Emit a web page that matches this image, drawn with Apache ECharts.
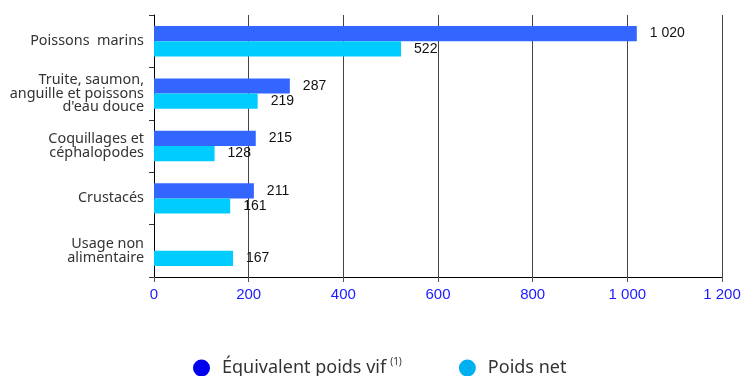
<!DOCTYPE html>
<html><head><meta charset="utf-8">
<script src="https://cdn.jsdelivr.net/npm/echarts@6/dist/echarts.min.js"></script>
<style>html,body{margin:0;padding:0;background:#fff}#c{width:744px;height:376px}</style>
</head><body><div id="c"></div>
<script>
const categories = ["Poissons  marins", "Truite, saumon,\nanguille et poissons\nd'eau douce", "Coquillages et\ncéphalopodes", "Crustacés", "Usage non\nalimentaire"];
const equivalentPoidsVif = [1020, 287, 215, 211, null];
const poidsNet = [522, 219, 128, 161, 167];
const xTicks = [0, 200, 400, 600, 800, 1000, 1200];

const fmt = v => String(v).replace(/\B(?=(\d{3})+(?!\d))/g, ' ');
const chart = echarts.init(document.getElementById('c'));
chart.setOption({
  animation: false,
  grid: {left: 154, right: 22, top: 15, bottom: 99},
  legend: {
    top: 352, left: 188, itemGap: 57, itemWidth: 17, itemHeight: 17,
    icon: 'circle',
    textStyle: {fontFamily: 'Noto Sans', fontSize: 18, color: '#333',
      rich: {
        t: {fontFamily: 'Noto Sans', fontSize: 18, lineHeight: 22, color: '#333', padding: [0,0,0,7]},
        sup: {fontSize: 10, lineHeight: 12, verticalAlign: 'top', padding: [0,0,0,4], fontFamily: 'Noto Sans', color: '#333'}
      }},
    formatter: n => n === 'Équivalent poids vif' ? '{t|Équivalent poids vif}{sup|(1)}' : '{t|' + n + '}',
    data: [
      {name: 'Équivalent poids vif', itemStyle: {color: '#0000EE'}},
      {name: 'Poids net', itemStyle: {color: '#00B0F0'}}
    ]
  },
  xAxis: {
    type: 'value', min: xTicks[0], max: xTicks[xTicks.length-1], interval: 200,
    axisLine: {show: true, lineStyle: {color: '#000', width: 1}},
    axisTick: {show: true, length: 5, lineStyle: {color: '#555'}},
    axisLabel: {color: '#1a1aff', fontFamily: 'Liberation Sans', fontSize: 15, margin: 10, formatter: fmt},
    splitLine: {show: true, lineStyle: {color: '#444', width: 1}}
  },
  yAxis: {
    type: 'category', data: categories, inverse: true,
    axisLine: {show: true, lineStyle: {color: '#000', width: 1}},
    axisTick: {show: true, length: 5, lineStyle: {color: '#333'}},
    axisLabel: {color: '#333', fontFamily: 'Noto Sans', fontSize: 14.4, lineHeight: 13.5, margin: 10, align: 'right', padding: [3,0,0,0]}
  },
  series: [
    {name: 'Équivalent poids vif', type: 'bar', data: equivalentPoidsVif, barGap: '0%', barCategoryGap: '42%',
     itemStyle: {color: '#3366FF'},
     label: {show: true, position: 'right', distance: 13, color: '#111', fontFamily: 'Liberation Sans', fontSize: 14, formatter: p => fmt(p.value)}},
    {name: 'Poids net', type: 'bar', data: poidsNet, barGap: '0%', barCategoryGap: '42%',
     itemStyle: {color: '#00CCFF'},
     label: {show: true, position: 'right', distance: 13, color: '#111', fontFamily: 'Liberation Sans', fontSize: 14, formatter: p => fmt(p.value)}}
  ]
});
</script></body></html>
